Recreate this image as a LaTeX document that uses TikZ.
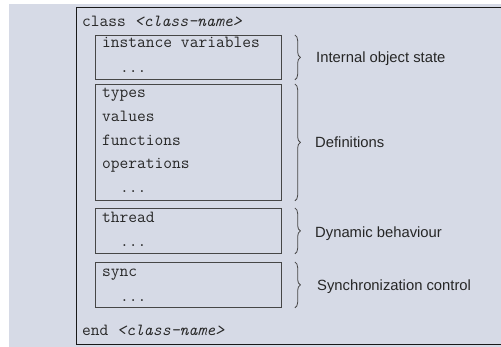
\documentclass[tikz,border=0pt]{standalone}
\usepackage{fontspec}
\setmainfont{Liberation Sans}
\setsansfont{Liberation Sans}
\usetikzlibrary{decorations.pathreplacing,calc}
\definecolor{bgcol}{RGB}{214,218,230}
\definecolor{linecol}{RGB}{70,70,70}
\definecolor{codecol}{RGB}{40,40,40}
\tikzset{
  codetext/.style={anchor=base west, inner sep=0pt, font=\fontsize{17}{19}\ttfamily, text=codecol},
  labeltext/.style={anchor=base west, inner sep=0pt, font=\fontsize{14.8}{16}\sffamily, text=black!85},
  innerbox/.style={draw=linecol, line width=0.9pt, anchor=north west, inner sep=0pt, minimum width=186pt},
  bracestyle/.style={draw=linecol, line width=0.8pt, decorate, decoration={brace, amplitude=5.5pt}},
}
\begin{document}
\begin{tikzpicture}[x=1pt,y=-1pt]
\useasboundingbox (0,0) rectangle (501,347);
\fill[bgcol] (9,4) rectangle (501,347);
% outer class box (right side runs off the picture)
\draw[black!90, line width=1pt] (503,8) -- (76,8) -- (76,344.5) -- (503,344.5);
\node[codetext] (cls) at (82,27) {class \textit{<class-name>}};
\node[codetext] (endcls) at (82,336) {end \textit{<class-name>}};
% inner boxes
\node[innerbox, minimum height=44pt] (b1) at (95,35) {};
\node[innerbox, minimum height=116pt] (b2) at (95,84) {};
\node[innerbox, minimum height=45pt] (b3) at (95,208) {};
\node[innerbox, minimum height=45pt] (b4) at (95,262) {};
% texts in boxes
\node[codetext] (t1) at (102,48) {instance variables};
\node[codetext] (t1d) at (120,73) {...};
\node[codetext] (t2a) at (102,98) {types};
\node[codetext] (t2b) at (102,122) {values};
\node[codetext] (t2c) at (102,146) {functions};
\node[codetext] (t2d) at (102,169) {operations};
\node[codetext] (t2e) at (120,193) {...};
\node[codetext] (t3) at (102,223) {thread};
\node[codetext] (t3d) at (120,247) {...};
\node[codetext] (t4) at (102,277) {sync};
\node[codetext] (t4d) at (120,302) {...};
% braces
\draw[bracestyle] ([xshift=13pt]b1.north east) -- ([xshift=13pt]b1.south east);
\draw[bracestyle] ([xshift=13pt]b2.north east) -- ([xshift=13pt]b2.south east);
\draw[bracestyle] ([xshift=13pt]b3.north east) -- ([xshift=13pt]b3.south east);
\draw[bracestyle] ([xshift=13pt]b4.north east) -- ([xshift=13pt]b4.south east);
% labels
\node[labeltext] (l1) at (316,63) {Internal object state};
\node[labeltext] (l2) at (315,148) {Definitions};
\node[labeltext] (l3) at (315,238) {Dynamic behaviour};
\node[labeltext] (l4) at (317,291) {Synchronization control};
\end{tikzpicture}
\end{document}
